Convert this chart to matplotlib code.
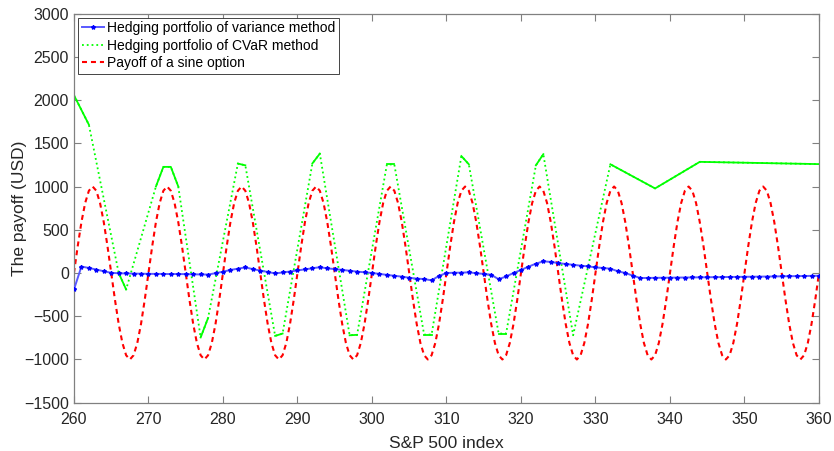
import numpy as np
import matplotlib.pyplot as plt

plt.rcParams['font.family'] = ['Liberation Sans', 'DejaVu Sans']

# payoff of the sine option, one period read at 0.5 index steps (period = 10)
sine_cycle = [0, 309, 588, 809, 951, 1000, 951, 809, 588, 309,
              0, -309, -588, -809, -951, -1000, -951, -809, -588, -309]
payoff_x = np.arange(260, 360.01, 0.5)
payoff_y = sine_cycle * 10 + [0]

# hedging portfolio, variance method (one point per index unit)
var_x = np.arange(260, 361)
var_y = [-190, 75, 58, 40, 20, 2, -3, -5, -7, -8,
         -10, -10, -11, -12, -12, -13, -15, -17, -18, -2,
         15, 35, 50, 65, 45, 28, 12, -5, 6, 17,
         30, 42, 55, 67, 54, 45, 36, 26, 16, 8,
         0, -10, -22, -32, -42, -55, -65, -70, -85, -33,
         0, 3, 4, 8, -3, -10, -20, -72, -40, 0,
         35, 73, 108, 135, 128, 115, 104, 95, 85, 77,
         65, 58, 50, 20, 0, -30, -58, -57, -56, -55,
         -54, -53, -52, -51, -50, -49, -48, -47, -46, -45,
         -44, -43, -42, -41, -40, -38, -37, -36, -35, -33,
         -32]

# hedging portfolio, CVaR method (kink points)
cvar_x = [260, 262, 266, 267, 271, 272, 273, 274, 277, 278, 282, 283,
          287, 288, 292, 293, 297, 298, 302, 303, 307, 308, 312, 313,
          317, 318, 322, 323, 327, 332, 338, 344, 360]
cvar_y = [2055, 1715, 0, -190, 1000, 1227, 1227, 1000, -745, -520, 1265, 1245,
          -727, -700, 1267, 1380, -720, -715, 1255, 1255, -712, -712, 1352, 1257,
          -700, -700, 1245, 1374, -720, 1257, 978, 1285, 1259]

fig = plt.figure(figsize=(8.34, 4.51), dpi=100)
ax = fig.add_axes([0.0887, 0.107, 0.8933, 0.863])

green = (0, 1, 0)
ax.plot(var_x, var_y, '-*', color=(0.35, 0.35, 1), mfc='b', mec='b', lw=1.4, ms=3,
        label='Hedging portfolio of variance method', zorder=3)
ax.plot(cvar_x, cvar_y, ':', color=green, lw=1.3, label='Hedging portfolio of CVaR method')
# short segments render solid in the original
for a, b in [(0, 1), (2, 3), (4, 7), (8, 9), (10, 11), (12, 13), (14, 15), (16, 17),
             (18, 19), (20, 21), (22, 23), (24, 25), (26, 27), (29, 32)]:
    ax.plot(cvar_x[a:b + 1], cvar_y[a:b + 1], '-', color=green, lw=1.3)
ax.plot(payoff_x, payoff_y, '--', color=(1, 0, 0), lw=1.5, dashes=(2.4, 1.9),
        label='Payoff of a sine option')

ax.set_xlim(260, 360)
ax.set_ylim(-1500, 3000)
ax.set_xticks(np.arange(260, 361, 10))
ax.set_yticks(np.arange(-1500, 3001, 500))
ax.tick_params(direction='in', top=True, right=True, length=5, width=0.8,
               color='#808080', labelsize=11.5, labelcolor='#262626')
ax.tick_params(axis='x', pad=7)
for s in ax.spines.values():
    s.set_color('#808080')
    s.set_linewidth(0.9)
ax.set_xlabel('S&P 500 index', fontsize=12.5, color='#262626', labelpad=6)
ax.set_ylabel('The payoff (USD)', fontsize=12.5, color='#262626', labelpad=-2)

leg = ax.legend(loc='upper left', fontsize=10, fancybox=False, framealpha=1,
                edgecolor='#262626', handlelength=1.6, handletextpad=0.25,
                labelspacing=0.25, borderaxespad=0.3, borderpad=0.25)
leg.get_frame().set_linewidth(0.6)

fig.savefig('out.png', dpi=100)
